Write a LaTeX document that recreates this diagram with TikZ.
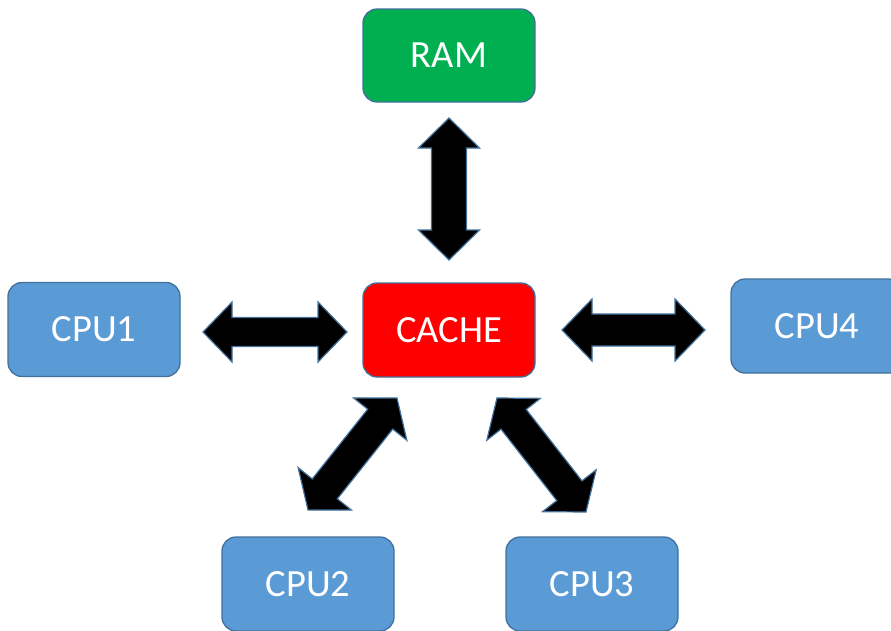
\documentclass[tikz,border=0pt]{standalone}
\usepackage{fontspec}
\setmainfont{Carlito}
\usetikzlibrary{calc}
\definecolor{ramgreen}{HTML}{00B050}
\definecolor{cachered}{HTML}{FF0000}
\definecolor{cpublue}{HTML}{5B9BD5}
\definecolor{edgeblue}{HTML}{41719C}
\tikzset{
  box/.style={draw=edgeblue, line width=1.3pt, rounded corners=14pt,
    minimum width=172pt, minimum height=94pt, text=white,
    font=\fontsize{38.5}{42}\selectfont, inner sep=0pt},
  cpubox/.style={box, fill=cpublue},
  dblarrow/.style={fill=black, draw=edgeblue, line width=1.2pt, line join=miter}
}
\newcommand\dblarr[5]{%
  \draw[dblarrow] (#1)
    -- ($(#1)!#3!(#2)!#4!90:(#2)$)
    -- ($(#1)!#3!(#2)!#5!90:(#2)$)
    -- ($(#2)!#3!(#1)!#5!-90:(#1)$)
    -- ($(#2)!#3!(#1)!#4!-90:(#1)$)
    -- (#2)
    -- ($(#2)!#3!(#1)!#4!90:(#1)$)
    -- ($(#2)!#3!(#1)!#5!90:(#1)$)
    -- ($(#1)!#3!(#2)!#5!-90:(#2)$)
    -- ($(#1)!#3!(#2)!#4!-90:(#2)$)
    -- cycle;}
\begin{document}
\begin{tikzpicture}[x=1pt,y=-1pt]
  \clip (0,0) rectangle (891,630);
  \fill[white] (0,0) rectangle (891,630);
  \node[box, fill=ramgreen, minimum height=93pt] (ram) at (449,55.5) {RAM};
  \node[box, fill=cachered] (cache) at (449,330) {CACHE};
  \node[cpubox] (cpu1) at (94,329.5) {CPU1};
  \node[cpubox] (cpu4) at (817,326) {CPU4};
  \node[cpubox] (cpu2) at (308,584) {CPU2};
  \node[cpubox] (cpu3) at (592,584) {CPU3};
  \coordinate (ramT) at (449,118);
  \coordinate (ramB) at (449,260);
  \coordinate (c1L) at (203,332);
  \coordinate (c1R) at (347,332);
  \coordinate (c4L) at (562,330);
  \coordinate (c4R) at (705,330);
  \coordinate (c2T) at (397,398);
  \coordinate (c2B) at (308,510);
  \coordinate (c3T) at (497,398);
  \coordinate (c3B) at (586,512);
  \dblarr{ramT}{ramB}{30pt}{30.5pt}{17.5pt}
  \dblarr{c1L}{c1R}{29pt}{30pt}{14.5pt}
  \dblarr{c4L}{c4R}{30pt}{31pt}{16pt}
  \dblarr{c2T}{c2B}{27pt}{34pt}{16pt}
  \dblarr{c3T}{c3B}{27pt}{34pt}{16pt}
\end{tikzpicture}
\end{document}
